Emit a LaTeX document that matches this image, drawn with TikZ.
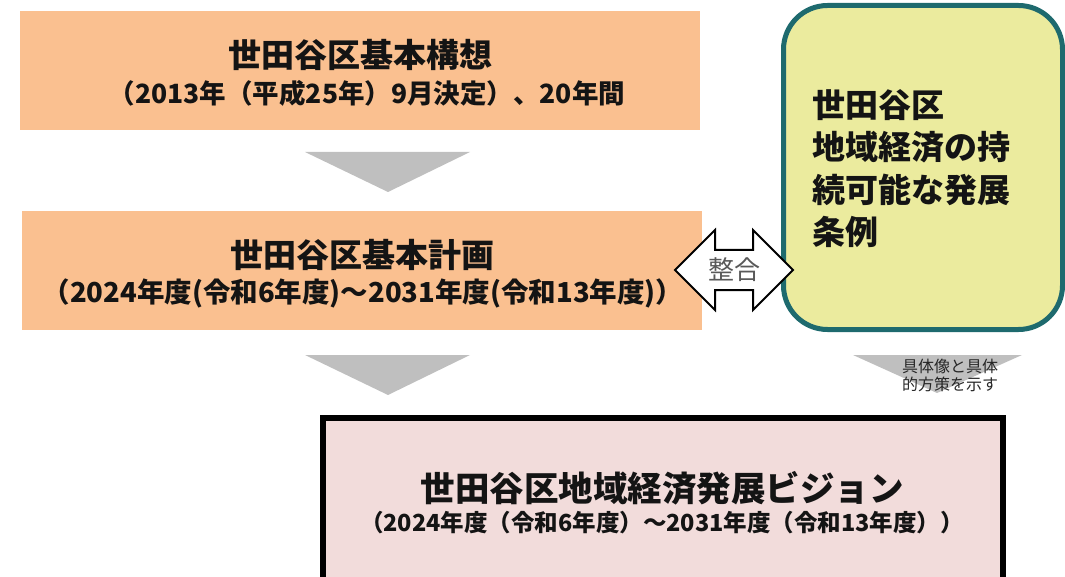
\documentclass[tikz,border=0pt]{standalone}
\usepackage{fontspec}
\setmainfont{Noto Sans CJK JP}
\definecolor{peach}{HTML}{FAC090}
\definecolor{pinkfill}{HTML}{F2DCDB}
\definecolor{yellowfill}{HTML}{EBEB9E}
\definecolor{tealline}{HTML}{1E6A6E}
\definecolor{arrowgray}{HTML}{BFBFBF}
\definecolor{labelgray}{HTML}{595959}
\tikzset{
  planbox/.style={fill=peach, draw=none, inner sep=0pt, outer sep=0pt},
  visionbox/.style={fill=pinkfill, draw=black, line width=6pt, inner sep=0pt, outer sep=0pt},
  jorei/.style={fill=yellowfill, draw=tealline, line width=5pt, rounded corners=44pt, inner sep=0pt, outer sep=0pt},
  flowtri/.style={fill=arrowgray, draw=none},
  titletext/.style={font=\fontsize{33}{36}\selectfont\bfseries, text=black!92, inner sep=0pt},
  subtext/.style={font=\fontsize{26.5}{30}\selectfont\bfseries, text=black!92, inner sep=0pt},
  dblarrow/.style={fill=white, draw=black, line width=2pt, line join=miter},
}
\begin{document}
\begin{tikzpicture}[x=1pt,y=-1pt]
\useasboundingbox (0,0) rectangle (1065,577);
\clip (0,0) rectangle (1065,577);

% basic concept
\node[planbox, minimum width=680pt, minimum height=119pt] (koso) at (360,71) {};
\node[titletext] (kosoT) at (360,55) {世田谷区基本構想};
\node[subtext] (kosoS) at (367,93) {（2013年（平成25年）9月決定）、20年間};

% arrow 1
\coordinate (t1a) at (305,152);
\coordinate (t1b) at (470,152);
\coordinate (t1c) at (388,192);
\fill[flowtri] (t1a) -- (t1b) -- (t1c) -- cycle;

% basic plan
\node[planbox, minimum width=680pt, minimum height=119pt] (keikaku) at (362,270.5) {};
\node[titletext] (keikakuT) at (362,255) {世田谷区基本計画};
\node[subtext, font=\fontsize{27.5}{30}\selectfont\bfseries] (keikakuS) at (363,293) {（2024年度(令和6年度)～2031年度(令和13年度)）};

% arrow 2
\coordinate (t2a) at (305,355);
\coordinate (t2b) at (470,355);
\coordinate (t2c) at (388,395);
\fill[flowtri] (t2a) -- (t2b) -- (t2c) -- cycle;

% ordinance box
\node[jorei, minimum width=279pt, minimum height=324pt] (jorei) at (923,167.5) {};
\node[font=\fontsize{33}{42.5}\selectfont\bfseries, text=black!92, align=left, anchor=west, inner sep=0pt] (joreiT) at (812,168.5)
  {世田谷区\\地域経済の持\\続可能な発展\\条例};

% double arrow
\coordinate (L) at (675,270);
\coordinate (R) at (793,270);
\draw[dblarrow] (L) -- (715,230) -- (715,250) -- (753,250) -- (753,230) -- (R)
  -- (753,310) -- (753,290) -- (715,290) -- (715,310) -- cycle;
\node[font=\fontsize{26}{28}\selectfont, text=labelgray, inner sep=0pt] (seigo) at (734,270) {整合};

% small arrow
\coordinate (t3a) at (853,355);
\coordinate (t3b) at (1022,355);
\coordinate (t3c) at (937,393);
\fill[flowtri] (t3a) -- (t3b) -- (t3c) -- cycle;
\node[font=\fontsize{16}{18}\selectfont, text=black!85, align=center, inner sep=0pt] (gutai) at (950,375)
  {具体像と具体\\的方策を示す};

% vision
\node[visionbox, minimum width=680pt, minimum height=184pt] (vision) at (662.5,510) {};
\node[titletext, font=\fontsize{34.5}{36}\selectfont\bfseries] (visionT) at (662,488) {世田谷区地域経済発展ビジョン};
\node[subtext, font=\fontsize{23.5}{26}\selectfont\bfseries] (visionS) at (662,523) {（2024年度（令和6年度）～2031年度（令和13年度））};
\end{tikzpicture}
\end{document}
